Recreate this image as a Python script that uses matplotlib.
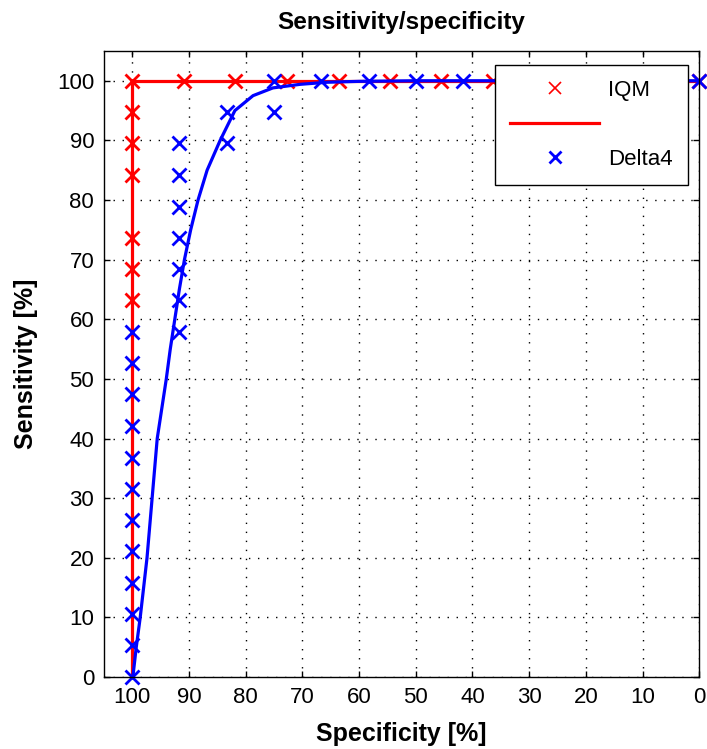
import matplotlib
matplotlib.use("Agg")
import matplotlib.pyplot as plt
from matplotlib.lines import Line2D

plt.rcParams['font.family'] = ['Liberation Sans', 'DejaVu Sans']

# IQM points (specificity %, sensitivity %)
iqm_spec = [100, 100, 100, 100, 100, 100, 100,
            90.9, 81.8, 72.7, 63.6, 54.5, 45.5, 36.4, 27.3, 18.2, 9.1, 0]
iqm_sens = [63.2, 68.4, 73.7, 84.2, 89.5, 94.7, 100,
            100, 100, 100, 100, 100, 100, 100, 100, 100, 100, 100]
# IQM fitted line (step)
iqm_fit_spec = [100, 100, 0]
iqm_fit_sens = [0, 100, 100]

# Delta4 points
delta_spec = [100, 100, 100, 100, 100, 100, 100, 100, 100, 100, 100, 100,
              91.7, 91.7, 91.7, 91.7, 91.7, 91.7, 91.7,
              83.3, 83.3, 75, 75,
              66.7, 58.3, 50, 41.7, 33.3, 25, 16.7, 8.3, 0]
delta_sens = [0, 5.3, 10.5, 15.8, 21.1, 26.3, 31.6, 36.8, 42.1, 47.4, 52.6, 57.9,
              57.9, 63.2, 68.4, 73.7, 78.9, 84.2, 89.5,
              89.5, 94.7, 94.7, 100,
              100, 100, 100, 100, 100, 100, 100, 100, 100]
# Delta4 fitted curve
delta_fit_spec = [99.9, 99.3, 98.6, 97.4, 96.5, 95.6, 94.8, 94.0, 93.3, 92.5, 91.7,
                  90.8, 89.7, 88.4, 86.8, 84.5, 81.9, 78.7, 75.2, 70.4, 65.6, 60, 50, 0]
delta_fit_sens = [0, 5, 10, 20, 30, 40, 45, 50, 55, 60, 65,
                  70, 75, 80, 85, 90, 95, 97.5, 98.8, 99.4, 99.75, 99.9, 100, 100]

fig = plt.figure(figsize=(7.07, 7.49), dpi=100)
ax = fig.add_axes([0.147, 0.096, 0.842, 0.836])

ax.plot(iqm_spec, iqm_sens, 'x', color='red', markersize=10, mew=2, clip_on=False)
ax.plot(iqm_fit_spec, iqm_fit_sens, '-', color='red', lw=2.3)
ax.plot(delta_spec, delta_sens, 'x', color='blue', markersize=10, mew=2, clip_on=False)
ax.plot(delta_fit_spec, delta_fit_sens, '-', color='blue', lw=2.3)

ax.set_xlim(105, 0)
ax.set_ylim(0, 105)
ax.set_xticks(range(100, -1, -10))
ax.set_yticks(range(0, 101, 10))
ax.tick_params(direction='in', length=4, width=1, top=True, right=True,
               labelsize=16, pad=7)
ax.grid(True, color='black', linestyle=(0, (1, 5.5)), linewidth=1)
for s in ax.spines.values():
    s.set_linewidth(1)

ax.set_title('Sensitivity/specificity', fontsize=17.5, fontweight='bold', pad=16)
ax.set_xlabel('Specificity [%]', fontsize=18, fontweight='bold', labelpad=10)
ax.set_ylabel('Sensitivity [%]', fontsize=18, fontweight='bold', labelpad=14)

handles = [Line2D([], [], ls='none', marker='x', color='red', markersize=9, mew=1.2),
           Line2D([], [], ls='-', color='red', lw=2.3),
           Line2D([], [], ls='none', marker='x', color='blue', markersize=9, mew=2)]
leg = ax.legend(handles, ['IQM', '', 'Delta4'], loc='upper right',
                bbox_to_anchor=(0.9815, 0.978), borderaxespad=0, fontsize=16,
                fancybox=False, framealpha=1, edgecolor='black',
                handlelength=4.0, handletextpad=0.4, labelspacing=0.6,
                borderpad=0.7)
leg.get_frame().set_linewidth(1)

fig.savefig('out.png', dpi=100)
